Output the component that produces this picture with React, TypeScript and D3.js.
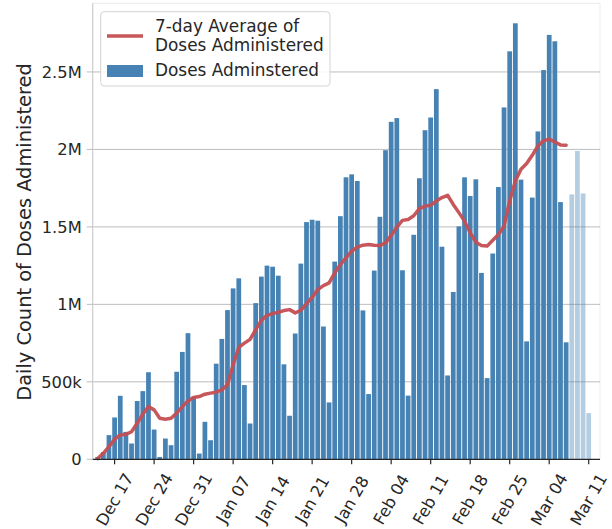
import React from "react";
import * as d3 from "d3";

const START_DATE = "2020-12-14";
const dosesK: number[] = [
  15, 47, 156, 270, 410, 177, 102, 376, 440, 562, 192, 15, 134, 91, 565, 693, 814, 404,
  37, 242, 123, 617, 777, 963, 1103, 1168, 479, 231, 1008, 1179, 1250, 1243, 1185, 613, 281,
  812, 1263, 1531, 1546, 1540, 857, 367, 1276, 1569, 1820, 1839, 1796, 961, 421,
  1218, 1565, 1995, 2178, 2202, 1220, 411, 1449, 1814, 2124, 2206, 2389, 1372, 541,
  1080, 1503, 1820, 1699, 1807, 1203, 524, 1328, 1757, 2271, 2633, 2814, 1805, 761,
  1689, 2116, 2512, 2739, 2698, 1660, 755,
  1710, 1990, 1716, 298,
];
const completeDays = 84; // bars after this are provisional (light)
const avgK: number[] = [
  5, 39, 82, 129, 157, 161, 178, 233, 291, 340, 319, 265, 259, 265, 298, 340, 377, 399,
  405, 420, 427, 433, 448, 481, 610, 722, 750, 774, 837, 897, 929, 940, 949, 960, 966,
  945, 962, 1003, 1046, 1095, 1121, 1139, 1203, 1257, 1300, 1343, 1369, 1382, 1386,
  1382, 1380, 1397, 1445, 1498, 1542, 1548, 1572, 1618, 1634, 1639, 1667, 1689, 1704,
  1645, 1592, 1537, 1462, 1401, 1380, 1376, 1414, 1451, 1505, 1667, 1796, 1872, 1909,
  1962, 2023, 2055, 2066, 2048, 2029, 2027,
];
const yTickValues = [0, 500000, 1000000, 1500000, 2000000, 2500000];
const yTickLabels = ["0", "500k", "1M", "1.5M", "2M", "2.5M"];
const xTickDates = [
  "2020-12-17", "2020-12-24", "2020-12-31", "2021-01-07", "2021-01-14", "2021-01-21",
  "2021-01-28", "2021-02-04", "2021-02-11", "2021-02-18", "2021-02-25", "2021-03-04", "2021-03-11",
];
const yLabel = "Daily Count of Doses Administered";
const legendAvg = ["7-day Average of", "Doses Administered"];
const legendBars = "Doses Adminstered";

const DAY = 86400000;
const W = 612, H = 529;
const left = 92.7, right = 600, top = 3.3, bottom = 459.3;
const FONT = "'DejaVu Sans', sans-serif";
const TXT = "#262626";
const BLUE = "#4682b4";
const RED = "#c44e52";

export default function App() {
  const t0 = new Date(START_DATE + "T00:00:00Z").getTime();
  const dates = dosesK.map((_, i) => new Date(t0 + i * DAY));
  const x = d3
    .scaleUtc()
    .domain([new Date(t0 - 0.88 * DAY), new Date(t0 + 89.0 * DAY)])
    .range([left, right]);
  const y = d3.scaleLinear().domain([0, 2943000]).range([bottom, top]);
  const bw = 0.84 * (x(new Date(t0 + DAY)) - x(new Date(t0)));
  const fmt = d3.utcFormat("%b %d");

  const line = d3
    .line<number>()
    .x((_, i) => x(dates[i]))
    .y((d) => y(d * 1000))
    .curve(d3.curveLinear);

  return (
    <svg
      width={W}
      height={H}
      style={{ position: "absolute", left: 0, top: 0, background: "#fff" }}
      fontFamily={FONT}
    >
      <rect x={0} y={0} width={W} height={H} fill="#fff" />
      {/* frame (faint) */}
      <line x1={left} x2={right} y1={top} y2={top} stroke="#ececec" strokeWidth={1} />
      <line x1={right} x2={right} y1={top} y2={bottom} stroke="#ececec" strokeWidth={1} />
      {/* grid */}
      {yTickValues.slice(1).map((v) => (
        <line key={v} x1={left} x2={right} y1={y(v)} y2={y(v)} stroke="#bdbdbd" strokeWidth={1} />
      ))}
      {/* bars */}
      {dosesK.map((v, i) => (
        <rect
          key={i}
          x={x(dates[i]) - bw / 2}
          y={y(v * 1000)}
          width={bw}
          height={bottom - y(v * 1000)}
          fill={BLUE}
          fillOpacity={i < completeDays ? 1 : 0.4}
        />
      ))}
      {/* average line */}
      <path
        d={line(avgK) || ""}
        fill="none"
        stroke={RED}
        strokeWidth={3.5}
        strokeOpacity={0.95}
        strokeLinejoin="round"
        strokeLinecap="round"
      />
      {/* left spine & y ticks */}
      <line x1={left} x2={left} y1={top} y2={bottom} stroke="#cccccc" strokeWidth={1.2} />
      {yTickValues.map((v, i) => (
        <g key={v}>
          <line x1={left - 6} x2={left} y1={y(v)} y2={y(v)} stroke="#bdbdbd" strokeWidth={1} />
          <text x={left - 11} y={y(v)} dy="0.36em" textAnchor="end" fontSize={16.3} fill={TXT}>
            {yTickLabels[i]}
          </text>
        </g>
      ))}
      {/* bottom spine & x ticks */}
      <line x1={left} x2={right} y1={bottom} y2={bottom} stroke="#262626" strokeWidth={1.3} />
      {xTickDates.map((s) => {
        const d = new Date(s + "T00:00:00Z");
        const xx = x(d);
        const cy = 499.5;
        return (
          <g key={s}>
            <line x1={xx} x2={xx} y1={bottom} y2={bottom + 5} stroke="#262626" strokeWidth={1.2} />
            <text
              x={xx}
              y={cy}
              dy="0.35em"
              textAnchor="middle"
              fontSize={16.3}
              fill={TXT}
              transform={`rotate(-60 ${xx} ${cy})`}
            >
              {fmt(d)}
            </text>
          </g>
        );
      })}
      {/* y label */}
      <text
        transform={`translate(31 232) rotate(-90)`}
        textAnchor="middle"
        fontSize={19.4}
        fill={TXT}
      >
        {yLabel}
      </text>
      {/* legend */}
      <g>
        <rect
          x={100.7}
          y={11.7}
          width={229.3}
          height={74.3}
          rx={3.5}
          fill="#fff"
          fillOpacity={0.85}
          stroke="#d3d3d3"
          strokeWidth={1}
        />
        <line x1={107} x2={143} y1={36} y2={36} stroke={RED} strokeWidth={3.5} strokeOpacity={0.95} />
        <text x={155} y={31.7} fontSize={16.9} fill={TXT}>
          {legendAvg[0]}
        </text>
        <text x={155} y={50.7} fontSize={16.9} fill={TXT}>
          {legendAvg[1]}
        </text>
        <rect x={107} y={65} width={36} height={12} fill={BLUE} />
        <text x={155} y={76} fontSize={16.9} fill={TXT}>
          {legendBars}
        </text>
      </g>
    </svg>
  );
}
